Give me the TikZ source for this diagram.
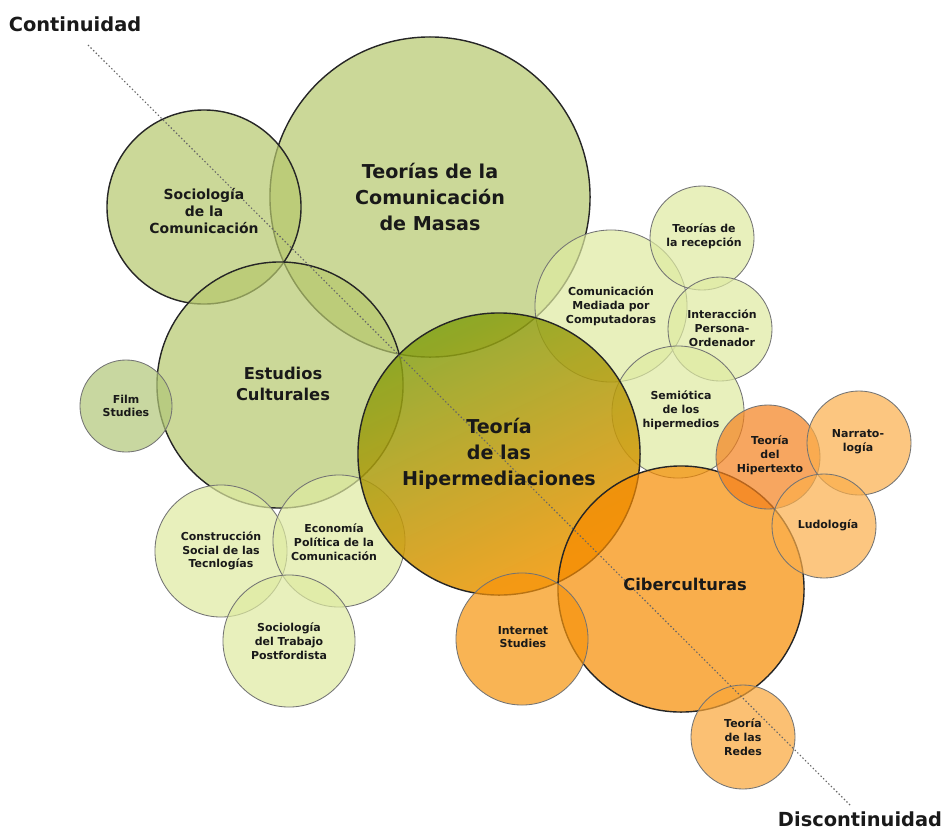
\documentclass[tikz,border=0pt]{standalone}
\usepackage{fontspec}
\setmainfont{DejaVu Sans}
\usetikzlibrary{
    calc
}
\definecolor{olivegreen}{RGB}{181,199,108}
\definecolor{filmgreen}{RGB}{176,198,119}
\definecolor{palegreen}{RGB}{222,234,160}
\definecolor{hipgreen}{RGB}{130,160,20}
\definecolor{hiporange}{RGB}{242,148,0}
\definecolor{cyberorange}{RGB}{246,139,0}
\definecolor{netorange}{RGB}{246,148,12}
\definecolor{textorange}{RGB}{244,128,28}
\definecolor{softorange}{RGB}{251,174,74}
\definecolor{redorange}{RGB}{249,165,55}
\tikzset{
    bubble/.style = {
        circle,
        inner sep = 0pt,
        outer sep = 0pt,
        minimum size = #1*0.05cm,
        fill opacity = 0.7,
        draw opacity = 1
    },
    major/.style = {draw = black!85, line width = 1pt},
    minor/.style = {draw = black!55, line width = 0.6pt},
    lbl/.style = {
        align = center,
        inner sep = 0pt,
        text = black!90
    },
    huge lbl/.style = {lbl, font = \fontsize{13.6}{18.5}\selectfont\bfseries},
    large lbl/.style = {lbl, font = \fontsize{11.6}{15.5}\selectfont\bfseries},
    mid lbl/.style = {lbl, font = \fontsize{9.9}{11.8}\selectfont\bfseries},
    small lbl/.style = {lbl, font = \fontsize{7.8}{9.8}\selectfont\bfseries},
    end lbl/.style = {lbl, font = \fontsize{13.8}{15}\selectfont\bfseries},
    axisline/.style = {
        draw = black!60,
        line width = 0.8pt,
        dash pattern = on 1pt off 1.6pt
    }
}

\begin{document}
\begin{tikzpicture}[x = 0.025cm, y = -0.025cm]
    % \draw[step = 50, lightgray, very thin] (0, 0) grid (944, 829);
    \useasboundingbox (0, 0) rectangle (944, 829);

    % green side
    \node[bubble = 160, major, fill = olivegreen] (masas) at (430, 197) {};
    \node[bubble = 97, major, fill = olivegreen] (socio) at (204, 207) {};
    \node[bubble = 123, major, fill = olivegreen] (estudios) at (280, 385) {};
    \node[bubble = 46, minor, fill = filmgreen] (film) at (126, 406) {};
    \node[bubble = 66, minor, fill = palegreen] (construccion) at (221, 551) {};
    \node[bubble = 66, minor, fill = palegreen] (economia) at (339, 541) {};
    \node[bubble = 66, minor, fill = palegreen] (trabajo) at (289, 641) {};
    \node[bubble = 76, minor, fill = palegreen] (cmc) at (611, 306) {};
    \node[bubble = 52, minor, fill = palegreen] (recepcion) at (702, 238) {};
    \node[bubble = 52, minor, fill = palegreen] (interaccion) at (720, 329) {};
    \node[bubble = 66, minor, fill = palegreen] (semiotica) at (678, 412) {};

    \node[bubble = 141, major, fill opacity = 0.85, top color = hipgreen, bottom color = hiporange, shading angle = 25] (hiper) at (499, 454) {};

    % orange side
    \node[bubble = 123, major, fill = cyberorange] (cyber) at (681, 589) {};
    \node[bubble = 66, minor, fill = netorange] (internet) at (522, 639) {};
    \node[bubble = 52, minor, fill = textorange] (hipertexto) at (768, 457) {};
    \node[bubble = 52, minor, fill = softorange] (narrato) at (859, 443) {};
    \node[bubble = 52, minor, fill = softorange] (ludo) at (824, 526) {};
    \node[bubble = 52, minor, fill = redorange] (redes) at (743, 737) {};

    \coordinate (cont-end) at (88, 45);
    \coordinate (disc-end) at (850, 805);
    \draw[axisline] (cont-end) -- (disc-end);

    \node[end lbl] (cont) at (75, 24) {Continuidad};
    \node[end lbl] (disc) at (860, 819) {Discontinuidad};

    \node[huge lbl] (masas-txt) at (masas) {Teorías de la\\Comunicación\\de Masas};
    \node[mid lbl] (socio-txt) at (204, 211) {Sociología\\de la\\Comunicación};
    \node[large lbl] (estudios-txt) at (283, 384) {Estudios\\Culturales};
    \node[small lbl] (film-txt) at (film) {Film\\Studies};
    \node[small lbl] (construccion-txt) at (construccion) {Construcción\\Social de las\\Tecnlogías};
    \node[small lbl] (economia-txt) at (334, 542) {Economía\\Política de la\\Comunicación};
    \node[small lbl] (trabajo-txt) at (trabajo) {Sociología\\del Trabajo\\Postfordista};
    \node[small lbl] (cmc-txt) at (cmc) {Comunicación\\Mediada por\\Computadoras};
    \node[small lbl] (recepcion-txt) at (704, 236) {Teorías de\\la recepción};
    \node[small lbl] (interaccion-txt) at (722, 328) {Interacción\\Persona-\\Ordenador};
    \node[small lbl] (semiotica-txt) at (681, 410) {Semiótica\\de los\\hipermedios};
    \node[huge lbl] (hiper-txt) at (hiper) {Teoría\\de las\\Hipermediaciones};
    \node[large lbl] (cyber-txt) at (685, 584) {Ciberculturas};
    \node[small lbl] (internet-txt) at (523, 637) {Internet\\Studies};
    \node[small lbl] (hipertexto-txt) at (770, 455) {Teoría\\del\\Hipertexto};
    \node[small lbl] (narrato-txt) at (858, 442) {Narrato-\\logía};
    \node[small lbl] (ludo-txt) at (828, 525) {Ludología};
    \node[small lbl] (redes-txt) at (redes) {Teoría\\de las\\Redes};
\end{tikzpicture}
\end{document}
